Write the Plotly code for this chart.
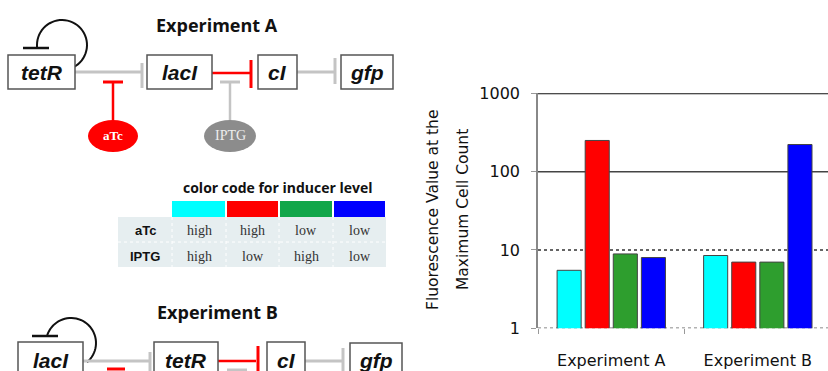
import math
import plotly.graph_objects as go

# ---------------- data ----------------
categories = ["Experiment A", "Experiment B"]
cyan_vals = [5.5, 8.5]      # aTc high, IPTG high
red_vals = [250, 7.0]       # aTc high, IPTG low
green_vals = [8.9, 7.0]     # aTc low, IPTG high
blue_vals = [8.0, 222]      # aTc low, IPTG low
series_colors = ["#00FFFF", "#FF0000", "#2E9E2E", "#0000FF"]
series_names = ["aTc high / IPTG high", "aTc high / IPTG low",
                "aTc low / IPTG high", "aTc low / IPTG low"]
y_tickvals = [1, 10, 100, 1000]
y_ticktext = ["1", "10", "100", "1000"]
table_rows = ["aTc", "IPTG"]
table_atc = ["high", "high", "low", "low"]
table_iptg = ["high", "low", "high", "low"]
swatch_colors = ["#00FFFF", "#FF0000", "#12A64A", "#0000FF"]

W, H = 828, 371


def X(p):
    return p / W


def Y(p):
    return 1 - p / H


shapes = []
annotations = []


def line(x0, y0, x1, y1, color, width):
    shapes.append(dict(type="line", xref="paper", yref="paper",
                       x0=X(x0), y0=Y(y0), x1=X(x1), y1=Y(y1),
                       line=dict(color=color, width=width)))


def rect(x0, y0, x1, y1, fill, lc="#555555", lw=1.5):
    shapes.append(dict(type="rect", xref="paper", yref="paper",
                       x0=X(x0), y0=Y(y0), x1=X(x1), y1=Y(y1),
                       fillcolor=fill, line=dict(color=lc, width=lw)))


def ellipse(x0, y0, x1, y1, fill):
    shapes.append(dict(type="circle", xref="paper", yref="paper",
                       x0=X(x0), y0=Y(y0), x1=X(x1), y1=Y(y1),
                       fillcolor=fill, line=dict(color=fill, width=0)))


def text(x, y, s, size, color="#111111", family="Open Sans", angle=0):
    annotations.append(dict(xref="paper", yref="paper", x=X(x), y=Y(y),
                            text=s, showarrow=False, textangle=angle,
                            xanchor="center", yanchor="middle",
                            font=dict(size=size, color=color, family=family)))


def loop(cx, cy, r, a0, a1, ex, ey):
    pts = []
    n = 40
    for i in range(n + 1):
        a = math.radians(a0 + (a1 - a0) * i / n)
        pts.append((cx + r * math.cos(a), cy + r * math.sin(a)))
    pts.append((ex, ey))
    path = "M " + " L ".join(f"{X(px):.5f},{Y(py):.5f}" for px, py in pts)
    shapes.append(dict(type="path", xref="paper", yref="paper", path=path,
                       line=dict(color="#111111", width=2)))


GRAY = "#C4C4C4"
RED = "#FF0000"
BOXFONT = "Liberation Sans"

# ---------------- Experiment A diagram ----------------
text(217, 25, "<b>Experiment A</b>", 18)
loop(62, 45, 25, 62, -180, 37, 48)
line(23, 48, 49, 48, "#111111", 2.5)
line(75, 72, 142, 72, GRAY, 3)
line(142, 63, 142, 88, GRAY, 3)
line(212, 73, 250, 73, RED, 2.5)
line(251, 60, 251, 88, RED, 3)
line(297, 72, 334, 72, GRAY, 3)
line(335, 58, 335, 84, GRAY, 3)
# inducers
line(113, 82, 113, 121, RED, 2.5)
line(103, 82, 123, 82, RED, 3)
ellipse(88, 120, 138, 152, RED)
text(113, 136, "<b>aTc</b>", 13, "white", "Liberation Serif")
line(230, 82, 230, 121, GRAY, 2.5)
line(220, 82, 240, 82, GRAY, 3)
ellipse(204, 120, 256, 152, "#8C8C8C")
text(230, 136, "IPTG", 14, "#EEEEEE", "Liberation Serif")
for (x0, x1, lab) in [(8, 75, "tetR"), (147, 212, "lacI"), (258, 297, "cI"), (341, 393, "gfp")]:
    rect(x0, 55, x1, 89, "white")
    text((x0 + x1) / 2, 72, f"<b><i>{lab}</i></b>", 21, "#111111", BOXFONT)

# ---------------- colour code table ----------------
text(278, 187, "<b>color code for inducer level</b>", 14)
rect(118, 217, 386, 267, "#E6EEF0", "#E6EEF0", 0)
col_edges = [118, 172, 226, 279, 333, 386]
for i, c in enumerate(swatch_colors):
    rect(col_edges[i + 1] + (0 if i == 0 else 1), 201, col_edges[i + 2] - 1, 217, c, c, 0)
for xe in col_edges[1:-1]:
    shapes.append(dict(type="line", xref="paper", yref="paper", x0=X(xe), x1=X(xe),
                       y0=Y(217), y1=Y(267), line=dict(color="white", width=1, dash="dot")))
shapes.append(dict(type="line", xref="paper", yref="paper", x0=X(118), x1=X(386),
                   y0=Y(242), y1=Y(242), line=dict(color="white", width=1, dash="dot")))
row_y = [230, 256]
for r, lab in enumerate(table_rows):
    text(145, row_y[r], f"<b>{lab}</b>", 13, "#111111", "Liberation Sans")
for i in range(4):
    cx = (col_edges[i + 1] + col_edges[i + 2]) / 2
    text(cx, row_y[0], table_atc[i], 14, "#333333", "Liberation Serif")
    text(cx, row_y[1], table_iptg[i], 14, "#333333", "Liberation Serif")

# ---------------- Experiment B diagram ----------------
text(217, 312, "<b>Experiment B</b>", 18)
loop(71, 343, 25, 50, -163, 47, 336)
line(32, 336, 58, 336, "#111111", 2.5)
line(83, 361, 149, 361, GRAY, 3)
line(150, 352, 150, 375, GRAY, 3)
line(218, 361, 256, 361, RED, 2.5)
line(258, 346, 258, 376, RED, 3)
line(305, 361, 342, 361, GRAY, 3)
line(343, 348, 343, 375, GRAY, 3)
line(107, 369, 125, 369, RED, 3)
line(227, 370, 247, 370, GRAY, 3)
for (x0, x1, lab, y0) in [(18, 83, "lacI", 342), (154, 218, "tetR", 342),
                          (267, 305, "cI", 342), (350, 402, "gfp", 343)]:
    rect(x0, y0, x1, 380, "white")
    text((x0 + x1) / 2, 360, f"<b><i>{lab}</i></b>", 21, "#111111", BOXFONT)

# ---------------- bar chart ----------------
fig = go.Figure()
for vals, col, name in zip([cyan_vals, red_vals, green_vals, blue_vals], series_colors, series_names):
    fig.add_trace(go.Bar(x=categories, y=vals, name=name, marker_color=col,
                         marker_line=dict(color="#444444", width=1)))

# gridlines with Excel-like styles
grid_styles = {1: ("#666666", 1.5, "dot"), 10: ("#333333", 1.5, "dot"),
               100: ("#444444", 1.5, "solid"), 1000: ("#111111", 2, "solid")}
for v in y_tickvals:
    c, w, d = grid_styles[v]
    shapes.append(dict(type="line", xref="x domain", yref="y", x0=0, x1=1, y0=v, y1=v,
                       layer="below", line=dict(color=c, width=w, dash=d)))

text(433, 210, "Fluorescence Value at the", 15.5, "#111111", "DejaVu Sans", -90)
text(463, 210, "Maximum Cell Count", 15.5, "#111111", "DejaVu Sans", -90)

fig.update_layout(
    width=W, height=H,
    margin=dict(l=0, r=0, t=0, b=0, autoexpand=False),
    paper_bgcolor="white", plot_bgcolor="white",
    showlegend=False,
    barmode="group", bargap=0.233, bargroupgap=0.143,
    shapes=shapes, annotations=annotations,
    xaxis=dict(domain=[X(538), 1], range=[-0.5, 1.479], showgrid=False,
               automargin=False,
               showline=False, ticks="outside", tickson="boundaries",
               ticklen=5, tickcolor="#999999",
               tickfont=dict(family="DejaVu Sans", size=16, color="#111111"),
               ticklabelstandoff=21),
    yaxis=dict(domain=[Y(328.3), Y(93.3)], type="log", range=[0, 3],
               automargin=False,
               tickvals=y_tickvals, ticktext=y_ticktext, showgrid=False,
               showline=True, linecolor="#888888", linewidth=1.5,
               ticks="outside", ticklen=5, tickcolor="#999999",
               tickfont=dict(family="DejaVu Sans", size=16, color="#111111"),
               ticklabelstandoff=8, zeroline=False),
)

fig.write_html("out.html", config={"displayModeBar": False},
               post_script="document.body.style.margin='0';document.body.style.overflow='hidden';")
